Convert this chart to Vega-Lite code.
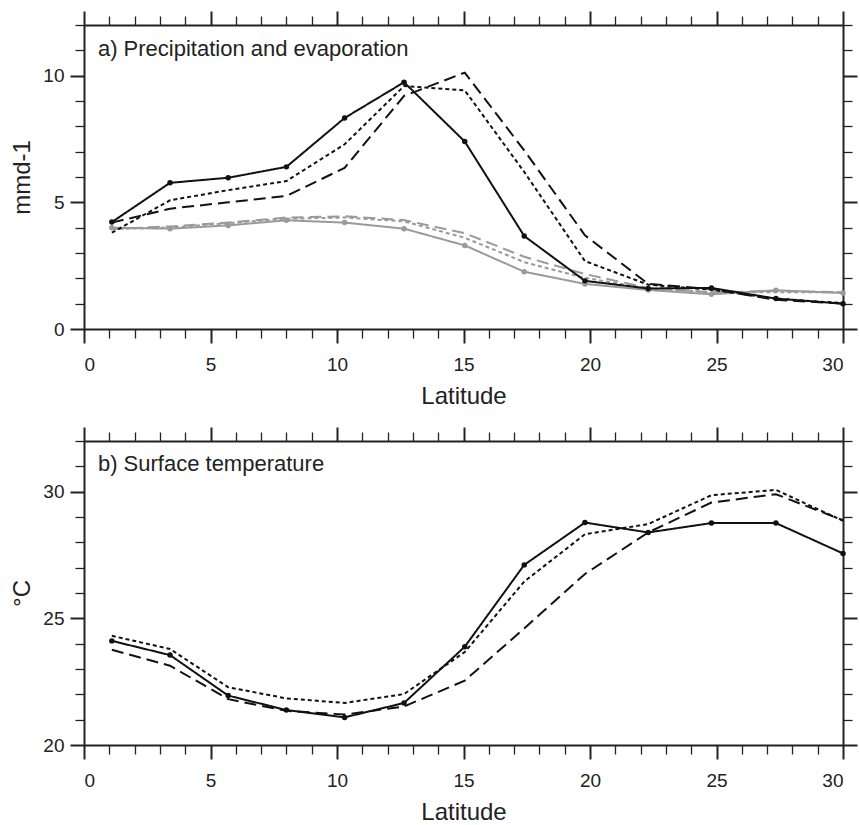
{
  "$schema": "https://vega.github.io/schema/vega-lite/v6.json",
  "background": "white",
  "padding": {"left": 10, "top": 10, "right": 0, "bottom": 5},
  "spacing": 18,
  "config": {
    "view": {"stroke": null},
    "font": "Liberation Sans",
    "axis": {
      "grid": false,
      "domainColor": "#222222",
      "domainWidth": 2,
      "tickColor": "#222222",
      "tickWidth": {"condition": {"test": "datum.value % 5 === 0", "value": 2}, "value": 1.3},
      "tickSize": {"condition": {"test": "datum.value % 5 === 0", "value": 14}, "value": 9},
      "labelFontSize": 19,
      "labelColor": "#222222",
      "labelFont": "Liberation Sans",
      "titleFont": "Liberation Sans",
      "titleFontSize": 24,
      "titleFontWeight": "normal",
      "titleColor": "#222222",
      "labelExpr": "datum.value % 5 === 0 ? datum.label : ''"
    }
  },
  "datasets": {
    "precip": [
      {"lat": 1.1, "v": 4.0, "var": "E", "run": "solid"},
      {"lat": 3.4, "v": 3.96, "var": "E", "run": "solid"},
      {"lat": 5.7, "v": 4.09, "var": "E", "run": "solid"},
      {"lat": 8.0, "v": 4.29, "var": "E", "run": "solid"},
      {"lat": 10.3, "v": 4.2, "var": "E", "run": "solid"},
      {"lat": 12.65, "v": 3.96, "var": "E", "run": "solid"},
      {"lat": 15.05, "v": 3.3, "var": "E", "run": "solid"},
      {"lat": 17.4, "v": 2.26, "var": "E", "run": "solid"},
      {"lat": 19.8, "v": 1.78, "var": "E", "run": "solid"},
      {"lat": 22.3, "v": 1.54, "var": "E", "run": "solid"},
      {"lat": 24.8, "v": 1.37, "var": "E", "run": "solid"},
      {"lat": 27.35, "v": 1.53, "var": "E", "run": "solid"},
      {"lat": 30.0, "v": 1.42, "var": "E", "run": "solid"},
      {"lat": 1.1, "v": 3.95, "var": "E", "run": "dash"},
      {"lat": 3.4, "v": 4.05, "var": "E", "run": "dash"},
      {"lat": 5.7, "v": 4.2, "var": "E", "run": "dash"},
      {"lat": 8.0, "v": 4.4, "var": "E", "run": "dash"},
      {"lat": 10.3, "v": 4.45, "var": "E", "run": "dash"},
      {"lat": 12.65, "v": 4.3, "var": "E", "run": "dash"},
      {"lat": 15.05, "v": 3.78, "var": "E", "run": "dash"},
      {"lat": 17.4, "v": 2.85, "var": "E", "run": "dash"},
      {"lat": 19.8, "v": 2.17, "var": "E", "run": "dash"},
      {"lat": 22.3, "v": 1.62, "var": "E", "run": "dash"},
      {"lat": 24.8, "v": 1.45, "var": "E", "run": "dash"},
      {"lat": 27.35, "v": 1.5, "var": "E", "run": "dash"},
      {"lat": 30.0, "v": 1.45, "var": "E", "run": "dash"},
      {"lat": 1.1, "v": 3.95, "var": "E", "run": "dot"},
      {"lat": 3.4, "v": 4.0, "var": "E", "run": "dot"},
      {"lat": 5.7, "v": 4.18, "var": "E", "run": "dot"},
      {"lat": 8.0, "v": 4.35, "var": "E", "run": "dot"},
      {"lat": 10.3, "v": 4.4, "var": "E", "run": "dot"},
      {"lat": 12.65, "v": 4.25, "var": "E", "run": "dot"},
      {"lat": 15.05, "v": 3.6, "var": "E", "run": "dot"},
      {"lat": 17.4, "v": 2.64, "var": "E", "run": "dot"},
      {"lat": 19.8, "v": 2.02, "var": "E", "run": "dot"},
      {"lat": 22.3, "v": 1.6, "var": "E", "run": "dot"},
      {"lat": 24.8, "v": 1.45, "var": "E", "run": "dot"},
      {"lat": 27.35, "v": 1.45, "var": "E", "run": "dot"},
      {"lat": 30.0, "v": 1.45, "var": "E", "run": "dot"},
      {"lat": 1.1, "v": 4.22, "var": "P", "run": "solid"},
      {"lat": 3.4, "v": 5.77, "var": "P", "run": "solid"},
      {"lat": 5.7, "v": 5.97, "var": "P", "run": "solid"},
      {"lat": 8.0, "v": 6.4, "var": "P", "run": "solid"},
      {"lat": 10.3, "v": 8.33, "var": "P", "run": "solid"},
      {"lat": 12.65, "v": 9.74, "var": "P", "run": "solid"},
      {"lat": 15.05, "v": 7.4, "var": "P", "run": "solid"},
      {"lat": 17.4, "v": 3.67, "var": "P", "run": "solid"},
      {"lat": 19.8, "v": 1.9, "var": "P", "run": "solid"},
      {"lat": 22.3, "v": 1.6, "var": "P", "run": "solid"},
      {"lat": 24.8, "v": 1.62, "var": "P", "run": "solid"},
      {"lat": 27.35, "v": 1.2, "var": "P", "run": "solid"},
      {"lat": 30.0, "v": 1.0, "var": "P", "run": "solid"},
      {"lat": 1.1, "v": 3.8, "var": "P", "run": "dot"},
      {"lat": 3.4, "v": 5.08, "var": "P", "run": "dot"},
      {"lat": 5.7, "v": 5.48, "var": "P", "run": "dot"},
      {"lat": 8.0, "v": 5.84, "var": "P", "run": "dot"},
      {"lat": 10.3, "v": 7.29, "var": "P", "run": "dot"},
      {"lat": 12.65, "v": 9.59, "var": "P", "run": "dot"},
      {"lat": 15.05, "v": 9.42, "var": "P", "run": "dot"},
      {"lat": 17.4, "v": 6.2, "var": "P", "run": "dot"},
      {"lat": 19.8, "v": 2.68, "var": "P", "run": "dot"},
      {"lat": 22.3, "v": 1.75, "var": "P", "run": "dot"},
      {"lat": 24.8, "v": 1.55, "var": "P", "run": "dot"},
      {"lat": 27.35, "v": 1.2, "var": "P", "run": "dot"},
      {"lat": 30.0, "v": 1.02, "var": "P", "run": "dot"},
      {"lat": 1.1, "v": 4.2, "var": "P", "run": "dash"},
      {"lat": 3.4, "v": 4.75, "var": "P", "run": "dash"},
      {"lat": 5.7, "v": 5.0, "var": "P", "run": "dash"},
      {"lat": 8.0, "v": 5.25, "var": "P", "run": "dash"},
      {"lat": 10.3, "v": 6.36, "var": "P", "run": "dash"},
      {"lat": 12.65, "v": 9.2, "var": "P", "run": "dash"},
      {"lat": 15.05, "v": 10.12, "var": "P", "run": "dash"},
      {"lat": 17.4, "v": 7.05, "var": "P", "run": "dash"},
      {"lat": 19.8, "v": 3.7, "var": "P", "run": "dash"},
      {"lat": 22.3, "v": 1.78, "var": "P", "run": "dash"},
      {"lat": 24.8, "v": 1.58, "var": "P", "run": "dash"},
      {"lat": 27.35, "v": 1.15, "var": "P", "run": "dash"},
      {"lat": 30.0, "v": 1.0, "var": "P", "run": "dash"}
    ],
    "temp": [
      {"lat": 1.1, "v": 24.11, "run": "solid"},
      {"lat": 3.4, "v": 23.55, "run": "solid"},
      {"lat": 5.7, "v": 21.95, "run": "solid"},
      {"lat": 8.0, "v": 21.38, "run": "solid"},
      {"lat": 10.3, "v": 21.09, "run": "solid"},
      {"lat": 12.65, "v": 21.66, "run": "solid"},
      {"lat": 15.05, "v": 23.88, "run": "solid"},
      {"lat": 17.4, "v": 27.11, "run": "solid"},
      {"lat": 19.8, "v": 28.78, "run": "solid"},
      {"lat": 22.3, "v": 28.39, "run": "solid"},
      {"lat": 24.8, "v": 28.76, "run": "solid"},
      {"lat": 27.35, "v": 28.76, "run": "solid"},
      {"lat": 30.0, "v": 27.56, "run": "solid"},
      {"lat": 1.1, "v": 24.31, "run": "dot"},
      {"lat": 3.4, "v": 23.79, "run": "dot"},
      {"lat": 5.7, "v": 22.28, "run": "dot"},
      {"lat": 8.0, "v": 21.84, "run": "dot"},
      {"lat": 10.3, "v": 21.66, "run": "dot"},
      {"lat": 12.65, "v": 22.01, "run": "dot"},
      {"lat": 15.05, "v": 23.67, "run": "dot"},
      {"lat": 17.4, "v": 26.45, "run": "dot"},
      {"lat": 19.8, "v": 28.32, "run": "dot"},
      {"lat": 22.3, "v": 28.72, "run": "dot"},
      {"lat": 24.8, "v": 29.86, "run": "dot"},
      {"lat": 27.35, "v": 30.07, "run": "dot"},
      {"lat": 30.0, "v": 28.85, "run": "dot"},
      {"lat": 1.1, "v": 23.76, "run": "dash"},
      {"lat": 3.4, "v": 23.13, "run": "dash"},
      {"lat": 5.7, "v": 21.81, "run": "dash"},
      {"lat": 8.0, "v": 21.35, "run": "dash"},
      {"lat": 10.3, "v": 21.2, "run": "dash"},
      {"lat": 12.65, "v": 21.52, "run": "dash"},
      {"lat": 15.05, "v": 22.54, "run": "dash"},
      {"lat": 17.4, "v": 24.6, "run": "dash"},
      {"lat": 19.8, "v": 26.75, "run": "dash"},
      {"lat": 22.3, "v": 28.39, "run": "dash"},
      {"lat": 24.8, "v": 29.57, "run": "dash"},
      {"lat": 27.35, "v": 29.9, "run": "dash"},
      {"lat": 30.0, "v": 28.87, "run": "dash"}
    ]
  },
  "vconcat": [
    {
      "width": 759,
      "height": 304,
      "data": {"name": "precip"},
      "resolve": {"axis": {"x": "independent", "y": "independent"}},
      "layer": [
        {
          "mark": {"type": "line", "strokeWidth": 2},
          "encoding": {
            "x": {"field": "lat", "type": "quantitative",
                  "scale": {"domain": [0, 30], "nice": false, "zero": false},
                  "axis": {"orient": "bottom", "title": "Latitude", "values": [0,1,2,3,4,5,6,7,8,9,10,11,12,13,14,15,16,17,18,19,20,21,22,23,24,25,26,27,28,29,30], "labelPadding": 12, "titlePadding": 10}},
            "y": {"field": "v", "type": "quantitative",
                  "scale": {"domain": [0, 12], "nice": false, "zero": false},
                  "axis": {"orient": "left", "title": "mmd-1", "values": [0,1,2,3,4,5,6,7,8,9,10,11,12], "labelPadding": 6, "titlePadding": 8}},
            "color": {"field": "var", "type": "nominal", "scale": {"domain": ["E", "P"], "range": ["#9a9a9a", "#111111"]}, "legend": null},
            "strokeDash": {"field": "run", "type": "nominal", "scale": {"domain": ["solid", "dot", "dash"], "range": [[1, 0], [4, 3], [12, 6]]}, "legend": null}
          }
        },
        {
          "transform": [{"filter": "datum.run === 'solid'"}],
          "mark": {"type": "point", "filled": true, "size": 30, "opacity": 1},
          "encoding": {
            "x": {"field": "lat", "type": "quantitative", "axis": null},
            "y": {"field": "v", "type": "quantitative", "axis": null},
            "color": {"field": "var", "type": "nominal", "legend": null}
          }
        },
        {
          "mark": {"type": "point", "opacity": 0},
          "encoding": {
            "x": {"field": "lat", "type": "quantitative",
                  "axis": {"orient": "top", "title": null, "labels": false, "values": [0,1,2,3,4,5,6,7,8,9,10,11,12,13,14,15,16,17,18,19,20,21,22,23,24,25,26,27,28,29,30]}},
            "y": {"field": "v", "type": "quantitative",
                  "axis": {"orient": "right", "title": null, "labels": false, "values": [0,1,2,3,4,5,6,7,8,9,10,11,12]}}
          }
        },
        {
          "data": {"values": [{}]},
          "mark": {"type": "text", "align": "left", "baseline": "middle", "fontSize": 22, "color": "#222222", "font": "Liberation Sans"},
          "encoding": {
            "x": {"datum": 0.55, "type": "quantitative", "axis": null},
            "y": {"datum": 11.05, "type": "quantitative", "axis": null},
            "text": {"value": "a) Precipitation and evaporation"}
          }
        }
      ]
    },
    {
      "width": 759,
      "height": 304,
      "data": {"name": "temp"},
      "resolve": {"axis": {"x": "independent", "y": "independent"}},
      "layer": [
        {
          "mark": {"type": "line", "strokeWidth": 2, "color": "#111111"},
          "encoding": {
            "x": {"field": "lat", "type": "quantitative",
                  "scale": {"domain": [0, 30], "nice": false, "zero": false},
                  "axis": {"orient": "bottom", "title": "Latitude", "values": [0,1,2,3,4,5,6,7,8,9,10,11,12,13,14,15,16,17,18,19,20,21,22,23,24,25,26,27,28,29,30], "labelPadding": 12, "titlePadding": 10}},
            "y": {"field": "v", "type": "quantitative",
                  "scale": {"domain": [20, 32], "nice": false, "zero": false},
                  "axis": {"orient": "left", "title": "°C", "values": [20,21,22,23,24,25,26,27,28,29,30,31,32], "labelPadding": 6, "titlePadding": 8}},
            "strokeDash": {"field": "run", "type": "nominal", "scale": {"domain": ["solid", "dot", "dash"], "range": [[1, 0], [4, 3], [12, 6]]}, "legend": null}
          }
        },
        {
          "transform": [{"filter": "datum.run === 'solid'"}],
          "mark": {"type": "point", "filled": true, "size": 30, "opacity": 1, "color": "#111111"},
          "encoding": {
            "x": {"field": "lat", "type": "quantitative", "axis": null},
            "y": {"field": "v", "type": "quantitative", "axis": null}
          }
        },
        {
          "mark": {"type": "point", "opacity": 0},
          "encoding": {
            "x": {"field": "lat", "type": "quantitative",
                  "axis": {"orient": "top", "title": null, "labels": false, "values": [0,1,2,3,4,5,6,7,8,9,10,11,12,13,14,15,16,17,18,19,20,21,22,23,24,25,26,27,28,29,30]}},
            "y": {"field": "v", "type": "quantitative",
                  "axis": {"orient": "right", "title": null, "labels": false, "values": [20,21,22,23,24,25,26,27,28,29,30,31,32]}}
          }
        },
        {
          "data": {"values": [{}]},
          "mark": {"type": "text", "align": "left", "baseline": "middle", "fontSize": 22, "color": "#222222", "font": "Liberation Sans"},
          "encoding": {
            "x": {"datum": 0.55, "type": "quantitative", "axis": null},
            "y": {"datum": 31.08, "type": "quantitative", "axis": null},
            "text": {"value": "b) Surface temperature"}
          }
        }
      ]
    }
  ]
}
